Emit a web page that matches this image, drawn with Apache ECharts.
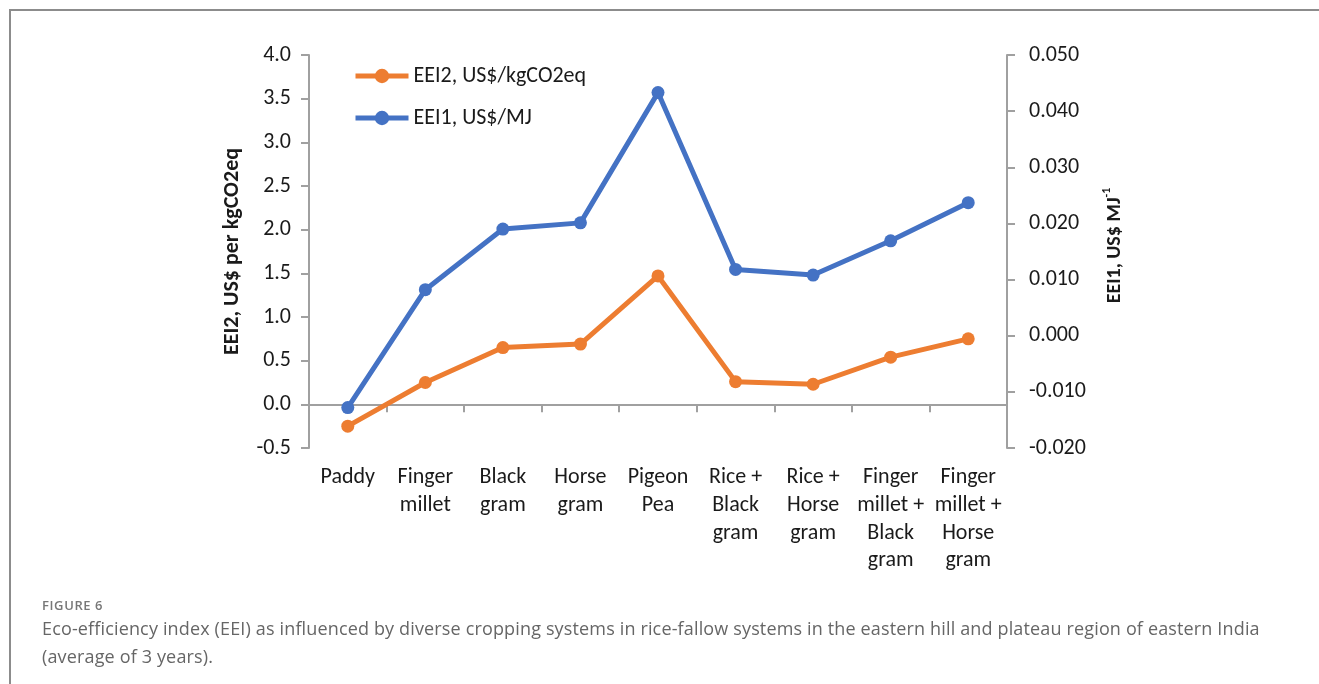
<!DOCTYPE html>
<html>
<head>
<meta charset="utf-8">
<script src="https://cdn.jsdelivr.net/npm/echarts@6/dist/echarts.min.js"></script>
<style>
  html, body { margin: 0; padding: 0; background: #fff; }
  body { width: 1319px; height: 684px; position: relative; overflow: hidden; }
  #frame { position: absolute; left: 9px; top: 9px; right: 0; bottom: 0;
           border-top: 2px solid #8c8c8c; border-left: 2px solid #8c8c8c; }
  #chart { position: absolute; left: 0; top: 0; width: 1319px; height: 684px; }
  .cap { position: absolute; left: 42px; font-family: "Open Sans", "Noto Sans", sans-serif; white-space: nowrap; }
  #figno { top: 596px; font-size: 13px; line-height: 18px; font-weight: 600; color: #777; letter-spacing: 0.6px; }
  #captext { top: 614px; font-size: 18px; line-height: 28px; color: #666; letter-spacing: 0.15px; }
</style>
</head>
<body>
<div id="frame"></div>
<div id="chart"></div>
<div class="cap" id="figno">FIGURE 6</div>
<div class="cap" id="captext">Eco-efficiency index (EEI) as influenced by diverse cropping systems in rice-fallow systems in the eastern hill and plateau region of eastern India<br>(average of 3 years).</div>
<script>
// Cropping systems (x axis)
const categories = [
  'Paddy', 'Finger\nmillet', 'Black\ngram', 'Horse\ngram', 'Pigeon\nPea',
  'Rice +\nBlack\ngram', 'Rice +\nHorse\ngram', 'Finger\nmillet +\nBlack\ngram', 'Finger\nmillet +\nHorse\ngram'
];
// EEI2, US$ per kgCO2eq (left axis)
const eei2 = [-0.25, 0.25, 0.65, 0.69, 1.47, 0.26, 0.23, 0.54, 0.75];
// EEI1, US$ per MJ (right axis)
const eei1 = [-0.0128, 0.0082, 0.0190, 0.0201, 0.0433, 0.0118, 0.0108, 0.0169, 0.0237];

const seriesNames = ['EEI2, US$/kgCO2eq', 'EEI1, US$/MJ'];
const leftAxisName = 'EEI2, US$ per kgCO2eq';

const FONT = 'Carlito, Lato, sans-serif';
const AXIS_GREY = '#a0a0a0';
const TEXT = '#1a1a1a';
const ORANGE = '#ED7D31';
const BLUE = '#4472C4';

const chart = echarts.init(document.getElementById('chart'), null, { renderer: 'canvas' });
chart.setOption({
  animation: false,
  textStyle: { fontFamily: FONT, color: TEXT },
  grid: { left: 309, right: 312, top: 55, bottom: 236, containLabel: false },
  legend: {
    data: seriesNames,
    orient: 'vertical',
    left: 353,
    top: 65,
    padding: 0,
    itemWidth: 53,
    itemHeight: 18,
    itemGap: 20,
    lineStyle: { width: 5 },
    textStyle: { fontFamily: FONT, fontSize: 22, color: TEXT, lineHeight: 22 }
  },
  xAxis: {
    type: 'category',
    data: categories,
    axisLine: { onZero: true, lineStyle: { color: AXIS_GREY, width: 2 } },
    axisTick: { show: true, length: 8, lineStyle: { color: AXIS_GREY, width: 2 } },
    axisLabel: { interval: 0, margin: 16, fontSize: 22, lineHeight: 27.7, color: TEXT, fontFamily: FONT, align: 'center' },
    splitLine: { show: false }
  },
  yAxis: [
    {
      type: 'value',
      min: -0.5, max: 4, interval: 0.5,
      name: leftAxisName,
      nameLocation: 'middle',
      nameRotate: 90,
      nameGap: 66,
      nameTextStyle: { fontFamily: FONT, fontSize: 22, fontWeight: 'bold', color: TEXT },
      axisLine: { show: true, lineStyle: { color: AXIS_GREY, width: 2 } },
      axisTick: { show: true, length: 8, lineStyle: { color: AXIS_GREY, width: 2 } },
      axisLabel: { margin: 18, fontSize: 22, color: TEXT, fontFamily: FONT, formatter: v => v.toFixed(1) },
      splitLine: { show: false }
    },
    {
      type: 'value',
      position: 'right',
      min: -0.02, max: 0.05, interval: 0.01,
      name: '{b|EEI1, US$ MJ}{s|-1}',
      nameLocation: 'middle',
      nameRotate: 90,
      nameGap: 94,
      nameTextStyle: {
        fontFamily: FONT, fontSize: 20, fontWeight: 'bold', color: TEXT,
        padding: [0, 0, 0, 12],
        rich: {
          b: { fontFamily: FONT, fontSize: 20, fontWeight: 'bold', color: TEXT, lineHeight: 24, verticalAlign: 'bottom' },
          s: { fontFamily: FONT, fontSize: 12, fontWeight: 'bold', color: TEXT, lineHeight: 24, verticalAlign: 'top' }
        }
      },
      axisLine: { show: true, onZero: false, lineStyle: { color: AXIS_GREY, width: 2 } },
      axisTick: { show: true, length: 8, lineStyle: { color: AXIS_GREY, width: 2 } },
      axisLabel: { margin: 22, fontSize: 22, color: TEXT, fontFamily: FONT, formatter: v => v.toFixed(3) },
      splitLine: { show: false }
    }
  ],
  series: [
    {
      name: seriesNames[0],
      type: 'line',
      yAxisIndex: 0,
      data: eei2,
      symbol: 'circle',
      symbolSize: 13,
      lineStyle: { color: ORANGE, width: 5 },
      itemStyle: { color: ORANGE }
    },
    {
      name: seriesNames[1],
      type: 'line',
      yAxisIndex: 1,
      data: eei1,
      symbol: 'circle',
      symbolSize: 13,
      lineStyle: { color: BLUE, width: 5 },
      itemStyle: { color: BLUE }
    }
  ]
});
</script>
</body>
</html>
